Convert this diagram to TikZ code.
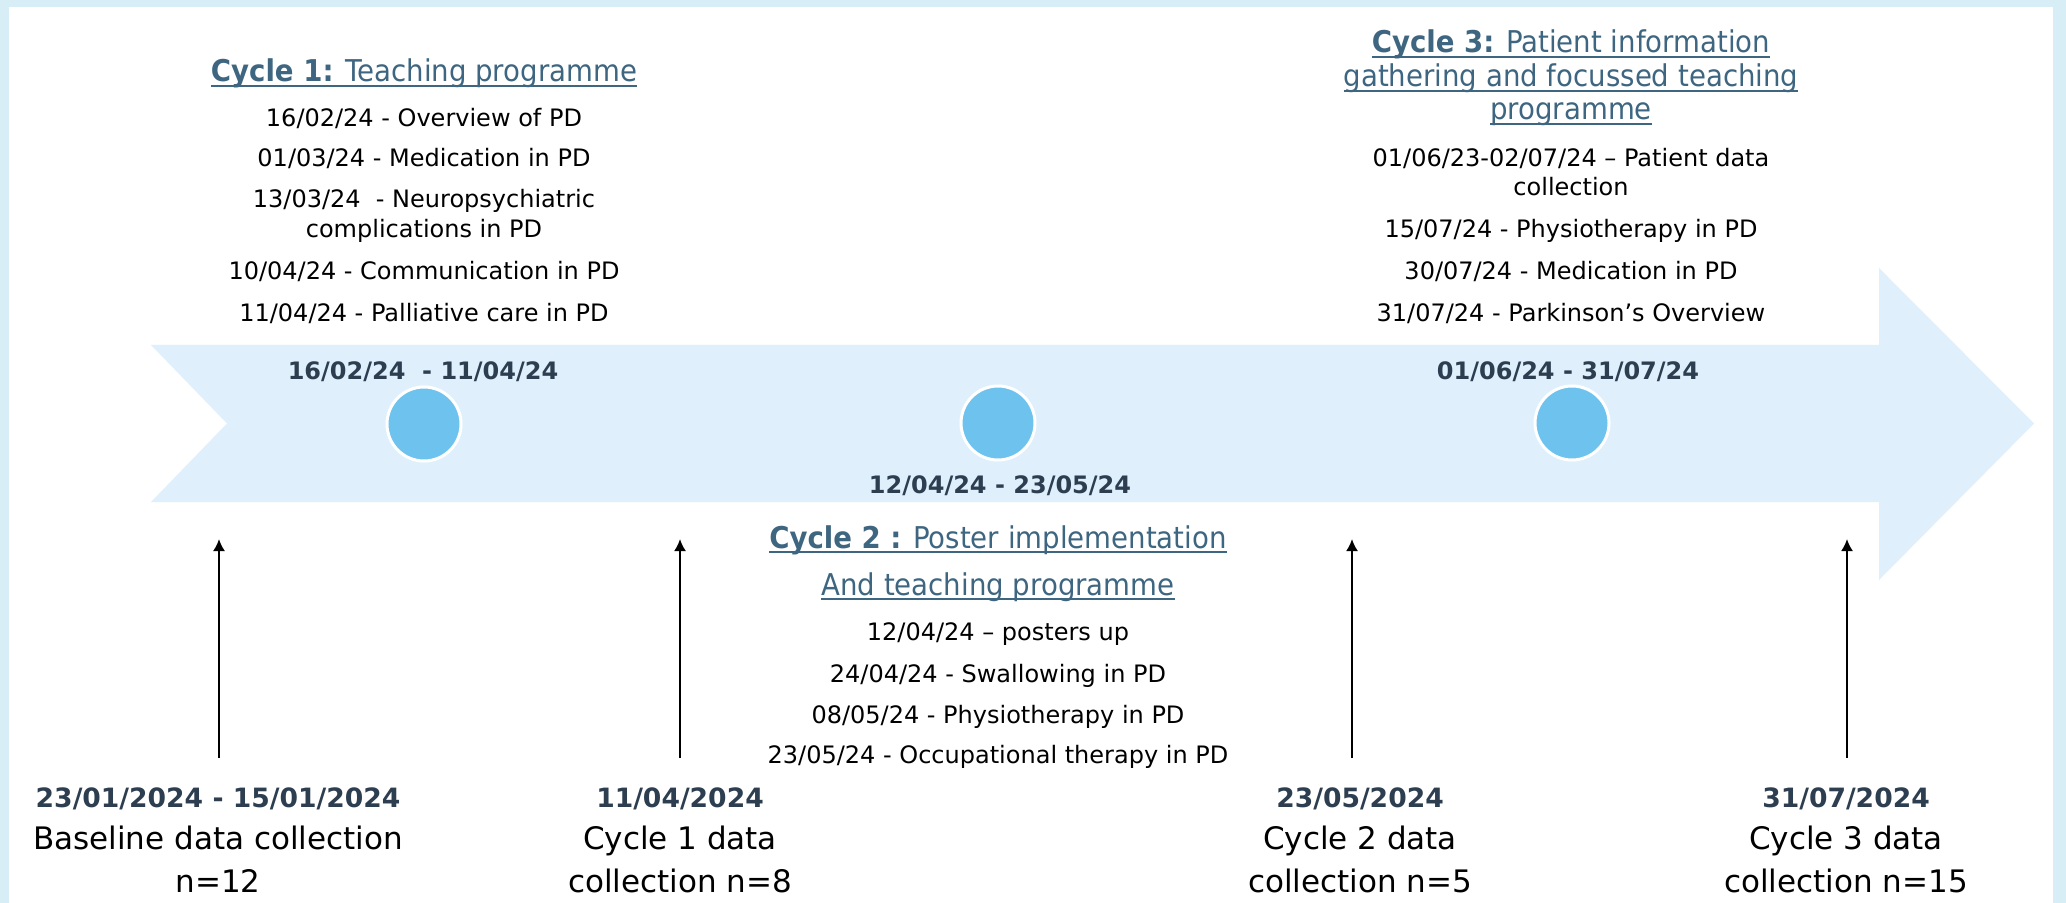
\documentclass[tikz,border=0pt]{standalone}
\usepackage{fontspec}
\setmainfont{DejaVu Sans}
\newfontfamily\headfont{DejaVu Sans}[FakeStretch=0.92]
\usetikzlibrary{arrows.meta}

\definecolor{framecol}{RGB}{215,238,246}
\definecolor{bandcol}{RGB}{223,240,252}
\definecolor{dotcol}{RGB}{110,195,238}
\definecolor{headcol}{RGB}{62,102,129}
\definecolor{datecol}{RGB}{44,62,80}

\newsavebox{\headbox}
\newcommand{\headul}[1]{\sbox{\headbox}{#1}\rlap{\rule[-2.6pt]{\wd\headbox}{1pt}}\usebox{\headbox}}

\tikzset{
    listline/.style={font=\fontsize{12}{14}\selectfont, inner sep=0pt, anchor=base},
    cyclehead/.style={font=\headfont\fontsize{15}{17}\selectfont, text=headcol, inner sep=0pt, anchor=base},
    banddate/.style={font=\bfseries\fontsize{12}{14}\selectfont, text=datecol, inner sep=0pt, anchor=base},
    stampdate/.style={font=\bfseries\fontsize{13.3}{15}\selectfont, text=datecol, inner sep=0pt, anchor=base},
    countline/.style={font=\fontsize{15.5}{18}\selectfont, inner sep=0pt, anchor=base},
    dot/.style={circle, minimum size=37pt, inner sep=0pt, fill=dotcol, draw=white, line width=1.5pt},
    uparrow/.style={-{Latex[length=6pt,width=6pt]}, line width=1pt},
}

\begin{document}
\begin{tikzpicture}[x=0.5pt, y=-0.5pt]
    \useasboundingbox (0,0) rectangle (2066,903);
    % frame and timeline band
    \fill[framecol] (0,0) rectangle (2066,903);
    \fill[white] (9,7.5) rectangle (2053,903);
    \fill[bandcol] (151,345) -- (1879,345) -- (1879,268) -- (2034,423.5) -- (1879,580)
        -- (1879,502) -- (151,502) -- (227,423.5) -- cycle;

    \node[dot] (dot1) at (424,424) {};
    \node[dot] (dot2) at (998,423) {};
    \node[dot] (dot3) at (1572,423) {};

    \node[banddate] (span1) at (423,380) {16/02/24~ - 11/04/24};
    \node[banddate] (span2) at (1000,493) {12/04/24 - 23/05/24};
    \node[banddate] (span3) at (1568,380) {01/06/24 - 31/07/24};

    % cycle 1
    \node[cyclehead] (c1head) at (424,82) {\headul{\textbf{Cycle 1:} Teaching programme}};
    \node[listline] (c1a) at (424,127) {16/02/24 - Overview of PD};
    \node[listline] (c1b) at (424,167) {01/03/24 - Medication in PD};
    \node[listline] (c1c) at (424,208) {13/03/24~ - Neuropsychiatric};
    \node[listline] (c1d) at (424,238) {complications in PD};
    \node[listline] (c1e) at (424,280) {10/04/24 - Communication in PD};
    \node[listline] (c1f) at (424,322) {11/04/24 - Palliative care in PD};

    % cycle 2
    \node[cyclehead] (c2head) at (998,548) {\headul{\textbf{Cycle 2 :} Poster implementation}};
    \node[cyclehead] (c2headb) at (998,595) {\headul{And teaching programme}};
    \node[listline] (c2a) at (998,640) {12/04/24 – posters up};
    \node[listline] (c2b) at (998,682) {24/04/24 - Swallowing in PD};
    \node[listline] (c2c) at (998,723) {08/05/24 - Physiotherapy in PD};
    \node[listline] (c2d) at (998,763) {23/05/24 - Occupational therapy in PD};

    % cycle 3
    \node[cyclehead] (c3head) at (1571,53) {\headul{\textbf{Cycle 3:} Patient information}};
    \node[cyclehead] (c3headb) at (1571,87) {\headul{gathering and focussed teaching}};
    \node[cyclehead] (c3headc) at (1571,120) {\headul{programme}};
    \node[listline] (c3a) at (1571,167) {01/06/23-02/07/24 – Patient data};
    \node[listline] (c3b) at (1571,196) {collection};
    \node[listline] (c3c) at (1571,238) {15/07/24 - Physiotherapy in PD};
    \node[listline] (c3d) at (1571,280) {30/07/24 - Medication in PD};
    \node[listline] (c3e) at (1571,322) {31/07/24 - Parkinson’s Overview};

    % data collection points
    \node[stampdate] (base) at (218,807) {23/01/2024 - 15/01/2024};
    \node[countline] (basea) at (218,849) {Baseline data collection};
    \node[countline] (baseb) at (218,892) {n=12};
    \node[stampdate] (col1) at (680,807) {11/04/2024};
    \node[countline] (col1a) at (680,849) {Cycle 1 data};
    \node[countline] (col1b) at (680,892) {collection n=8};
    \node[stampdate] (col2) at (1360,807) {23/05/2024};
    \node[countline] (col2a) at (1360,849) {Cycle 2 data};
    \node[countline] (col2b) at (1360,892) {collection n=5};
    \node[stampdate] (col3) at (1846,807) {31/07/2024};
    \node[countline] (col3a) at (1846,849) {Cycle 3 data};
    \node[countline] (col3b) at (1846,892) {collection n=15};

    \foreach \x [count=\i] in {219,680,1352,1847} {
        \coordinate (foot\i) at (\x,758);
        \coordinate (tip\i) at (\x,539);
        \draw[uparrow] (foot\i) -- (tip\i);
    }
\end{tikzpicture}
\end{document}
